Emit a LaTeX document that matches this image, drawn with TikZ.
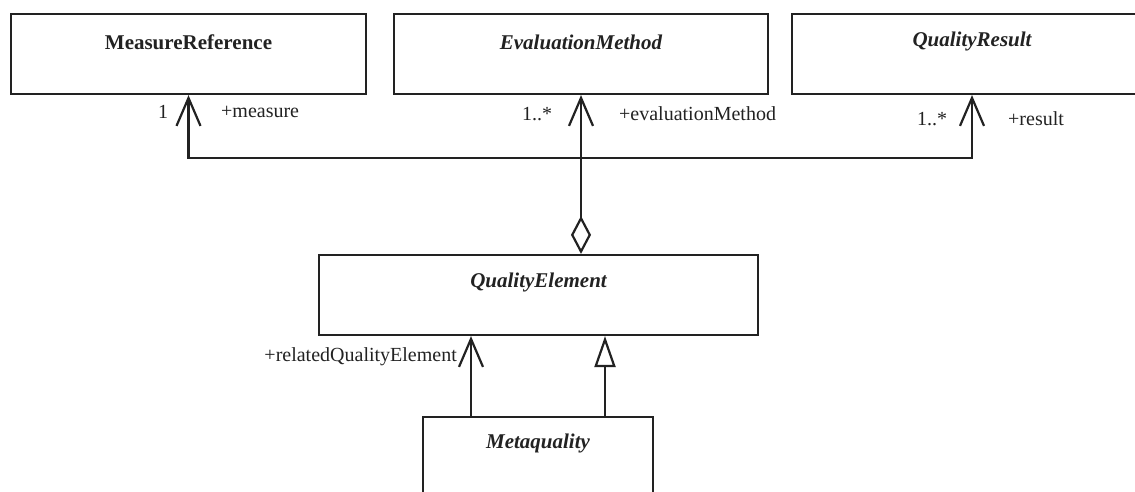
\documentclass[tikz,border=0pt]{standalone}
\usepackage{fontspec}
\setmainfont{Liberation Serif}
\usetikzlibrary{arrows.meta}
\definecolor{ink}{HTML}{222222}
\tikzset{
  cls/.style={draw=ink, line width=2.2pt, rectangle, inner sep=0pt, fill=white},
  cname/.style={font=\fontsize{21}{25}\selectfont\bfseries\itshape, text=ink, inner sep=0pt},
  lbl/.style={font=\fontsize{20}{24}\selectfont, text=ink, inner sep=0pt},
  conn/.style={draw=ink, line width=2.2pt},
  nav/.style={-{Straight Barb[length=28pt,width=24pt,line width=2.2pt]}},
  agg/.style={{Diamond[open,length=38pt,width=20pt,line width=2.2pt]}-{Straight Barb[length=28pt,width=24pt,line width=2.2pt]}},
  gen/.style={-{Triangle[open,length=31pt,width=21pt,line width=2.2pt]}}
}
\begin{document}
\begin{tikzpicture}[x=1pt,y=-1pt]
\useasboundingbox (0,0) rectangle (1135,492);
\clip (0,0) rectangle (1135,492);
\fill[white] (0,0) rectangle (1135,492);
% classes
\node[cls, minimum width=355pt, minimum height=80pt] (mr) at (188.5,54) {};
\node[cname, font=\fontsize{21}{25}\selectfont\bfseries] (mrl) at ([yshift=-29pt]mr.north) {MeasureReference};
\node[cls, minimum width=374pt, minimum height=80pt] (em) at (581,54) {};
\node[cname] (eml) at ([yshift=-29pt]em.north) {EvaluationMethod};
\node[cls, minimum width=360pt, minimum height=80pt] (qr) at (972,54) {};
\node[cname] (qrl) at ([yshift=-29pt]qr.north) {QualityResult};
\node[cls, minimum width=439pt, minimum height=80pt] (qe) at (538.5,295) {};
\node[cname] (qel) at ([yshift=-29pt]qe.north) {QualityElement};
\node[cls, minimum width=230pt, minimum height=100pt] (mq) at (538,467) {};
\node[cname] (mql) at ([yshift=-28pt]mq.north) {Metaquality};
% connectors
\coordinate (j) at (em.south |- 0,158);
\draw[conn, agg] (em.south |- qe.north) -- (em.south);
\draw[conn, nav] (j) -| (mr.south);
\draw[conn, nav] (j) -| (qr.south);
\draw[conn, nav] ([xshift=-67pt]mq.north) -- ([xshift=-67pt]mq.north |- qe.south);
\draw[conn, gen] ([xshift=67pt]mq.north) -- ([xshift=67pt]mq.north |- qe.south);
% labels
\node[lbl] (m1) at (163,112) {1};
\node[lbl, anchor=west] (m2) at (221,112) {+measure};
\node[lbl] (e1) at (537,114) {1..*};
\node[lbl, anchor=west] (e2) at (619,114) {+evaluationMethod};
\node[lbl] (r1) at (932,119) {1..*};
\node[lbl, anchor=west] (r2) at (1008,119) {+result};
\node[lbl, anchor=east] (q1) at (457,357) {+relatedQualityElement};
\end{tikzpicture}
\end{document}
